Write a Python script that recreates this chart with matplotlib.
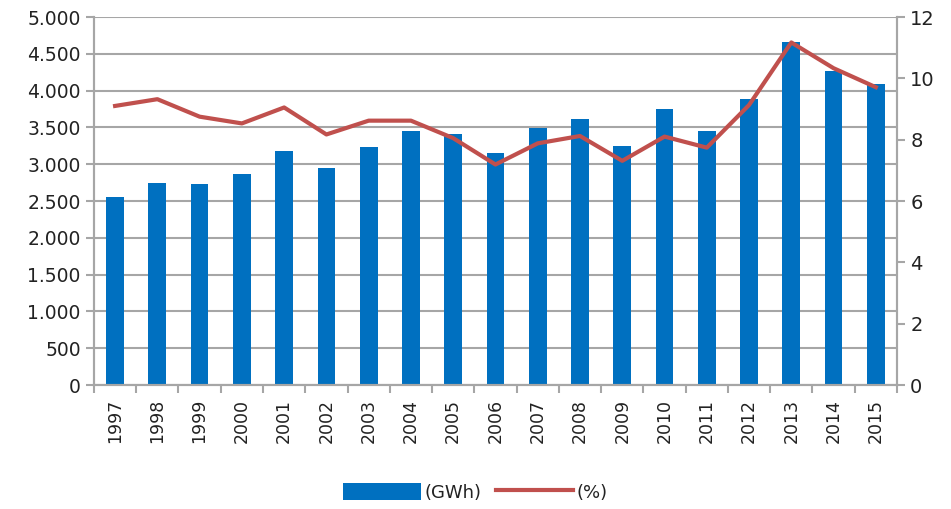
import matplotlib.pyplot as plt
from matplotlib.ticker import FuncFormatter
from matplotlib.patches import Patch
from matplotlib.lines import Line2D
import numpy as np

# Dados
anos = [str(a) for a in range(1997, 2016)]
gwh = [2560, 2740, 2735, 2867, 3180, 2955, 3240, 3445, 3415, 3150, 3490,
       3615, 3250, 3750, 3445, 3880, 4660, 4270, 4090]
pct = [9.10, 9.32, 8.75, 8.53, 9.05, 8.17, 8.62, 8.62, 8.05, 7.19, 7.88,
       8.12, 7.31, 8.10, 7.74, 9.13, 11.17, 10.33, 9.71]

azul = '#0070C0'
vermelho = '#C0504D'
cinza = '#A6A6A6'
texto = '#222222'

fig = plt.figure(figsize=(9.51, 5.09), dpi=100)
ax = fig.add_axes([0.0988, 0.2436, 0.8444, 0.7230])
ax2 = ax.twinx()

x = np.arange(len(anos))
ax.bar(x, gwh, width=0.42, color=azul, zorder=2)
ax2.plot(x, pct, color=vermelho, linewidth=3, zorder=3)

# Eixo esquerdo
ax.set_ylim(0, 5000)
ax.set_yticks(np.arange(0, 5001, 500))
ax.yaxis.set_major_formatter(FuncFormatter(lambda v, p: f"{int(v):,}".replace(',', '.')))
ax.grid(axis='y', color=cinza, linewidth=1.5, zorder=0)
ax.set_axisbelow(True)
ax.set_xlim(-0.5, len(anos) - 0.5)

# Eixo direito
ax2.set_ylim(0, 12)
ax2.set_yticks(np.arange(0, 13, 2))

# Eixo x
ax.set_xticks(x)
ax.set_xticklabels(anos, rotation=90)
ax.set_xticks(np.arange(-0.5, len(anos), 1), minor=True)
ax.tick_params(axis='x', which='major', length=0, pad=10)
ax.tick_params(axis='x', which='minor', length=6, color=cinza, width=1.5)

for a in (ax, ax2):
    for s in a.spines.values():
        s.set_color(cinza)
        s.set_linewidth(1.5)
    a.spines['top'].set_visible(False)
ax.tick_params(axis='y', length=6, color=cinza, width=1.5, labelsize=13.5, labelcolor=texto)
ax2.tick_params(axis='y', length=6, color=cinza, width=1.5, labelsize=14, labelcolor=texto)
ax.tick_params(axis='x', labelsize=12.5, labelcolor=texto)

handles = [Patch(facecolor=azul, label='(GWh)'),
           Line2D([0], [0], color=vermelho, linewidth=3, label='(%)')]
fig.legend(handles=handles, loc='center', bbox_to_anchor=(0.5, 0.033), ncol=2,
           frameon=False, fontsize=13, handlelength=4.3, handleheight=1.1,
           handletextpad=0.2, columnspacing=0.8, labelcolor=texto)

plt.savefig('out.png', dpi=100)
